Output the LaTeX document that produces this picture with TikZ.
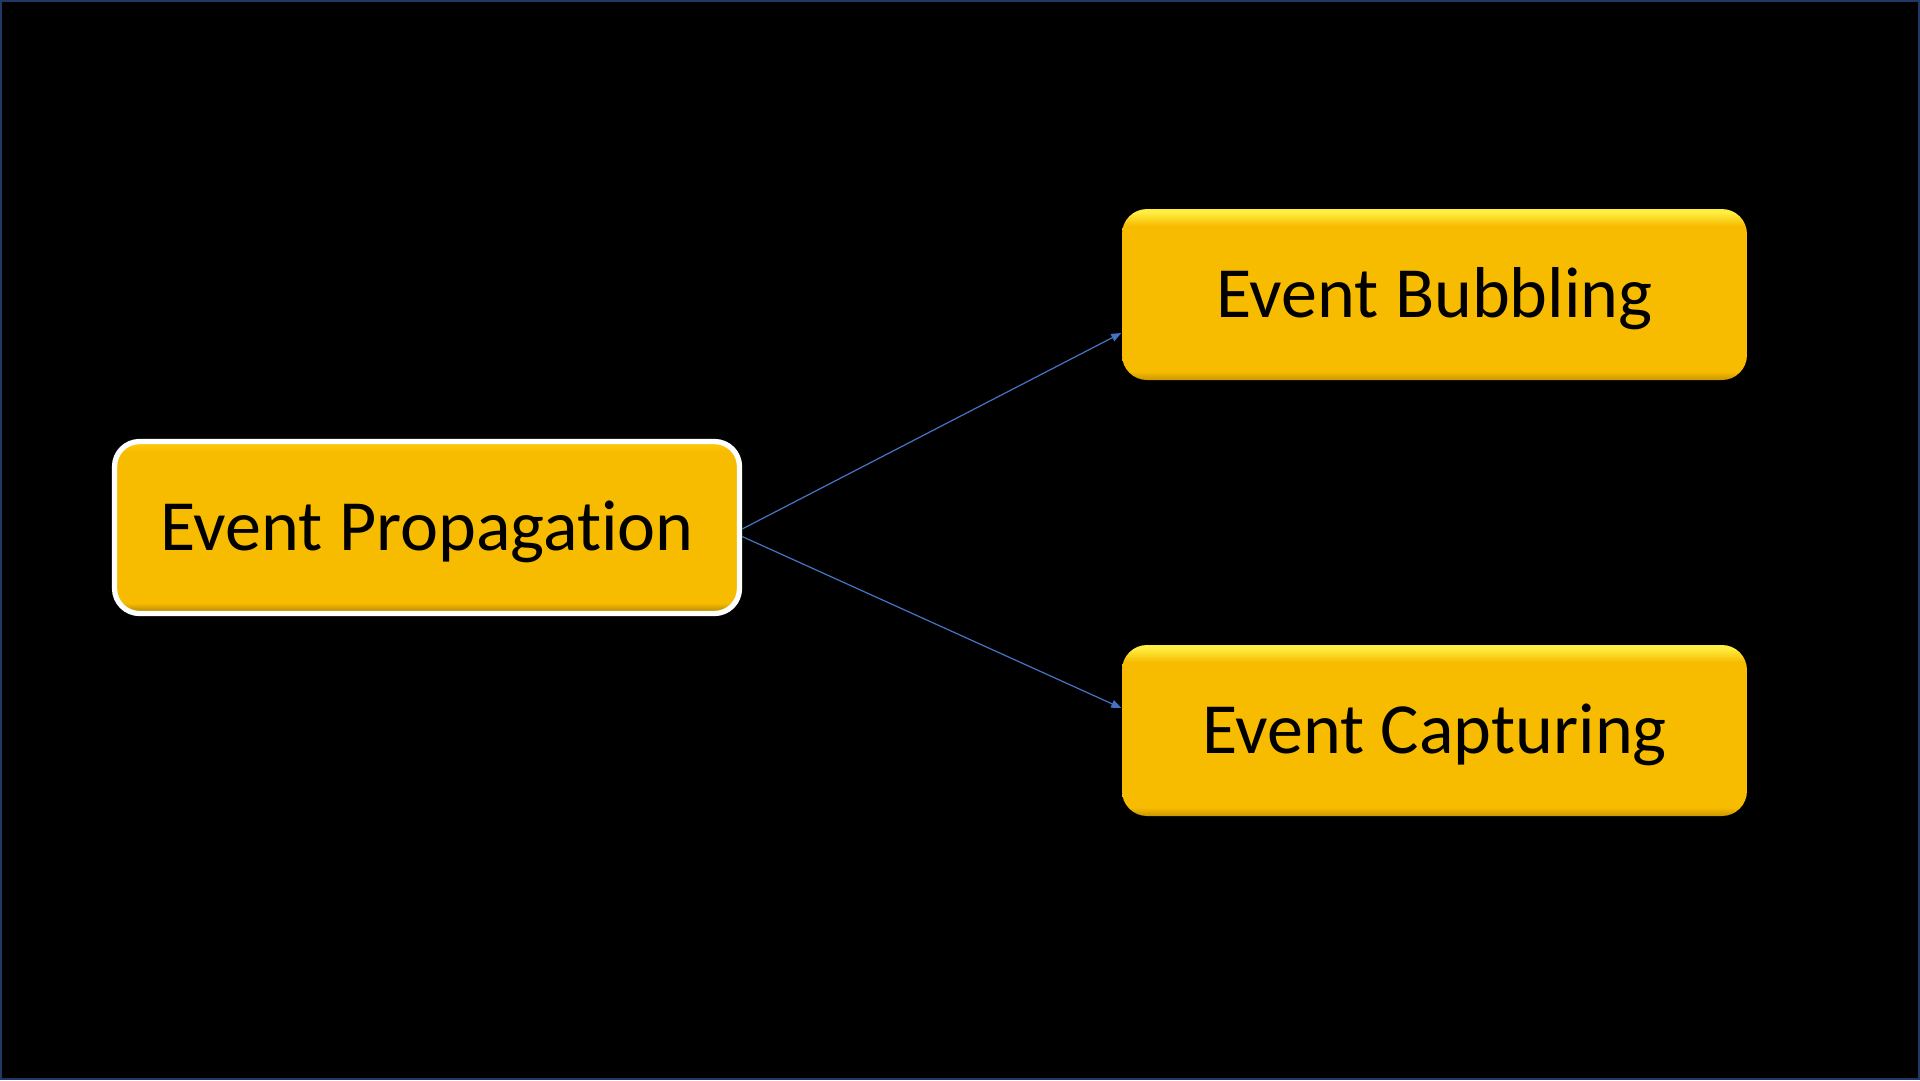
\documentclass[tikz,border=0pt]{standalone}
\usepackage{fontspec}
\setmainfont{Carlito}[RawFeature={-liga;-clig;-calt;-dlig}]
\usetikzlibrary{arrows.meta,positioning,calc}

\definecolor{slideblue}{HTML}{1F3864}
\definecolor{linkblue}{HTML}{4472C4}
\definecolor{boxgold}{HTML}{F7BB00}
\definecolor{boxtop}{HTML}{FFEE40}
\definecolor{boxbot}{HTML}{C99600}
\definecolor{roottop}{HTML}{FFCC10}
\definecolor{rootbot}{HTML}{A87E00}

\pgfdeclareverticalshading{goldbar}{100bp}{color(0bp)=(boxbot); color(25bp)=(boxbot); color(27.5bp)=(boxgold); color(70bp)=(boxgold); color(74bp)=(boxtop); color(100bp)=(boxtop)}
\pgfdeclareverticalshading{rootbar}{100bp}{color(0bp)=(rootbot); color(25bp)=(rootbot); color(28bp)=(boxgold); color(72bp)=(boxgold); color(75bp)=(roottop); color(100bp)=(roottop)}

\begin{document}
\begin{tikzpicture}[
    topic/.style={rounded corners=0.25cm, minimum width=6.25cm, minimum height=1.71cm, align=center, font=\fontsize{20.5}{24}\selectfont, text=black, shading=goldbar, text height=13.2pt, text depth=0pt, inner sep=0pt},
    root/.style={rounded corners=0.25cm, minimum width=6.25cm, minimum height=1.72cm, align=center, font=\fontsize{20.5}{24}\selectfont, text=black, shading=rootbar, draw=white, line width=1.5pt, text height=13.2pt, text depth=0pt, inner sep=0pt},
    link/.style={-{Triangle[length=0.1cm, width=0.08cm]}, draw=linkblue, line width=0.35pt}
]
% slide
\fill[black, draw=slideblue, line width=0.6pt] (0.01,0.01) rectangle (19.19,10.79);
\useasboundingbox (0,0) rectangle (19.2,10.8);

\node[root] (P) at (4.27,5.525) {Event Propagation};
\node[topic] (B) at (14.345,7.855) {Event Bubbling};
\node[topic] (C) at (14.345,3.495) {Event Capturing};

\draw[link] ([yshift=-0.015cm]P.east) -- ([yshift=-0.385cm]B.west);
\draw[link] ([yshift=-0.09cm]P.east) -- ([yshift=0.225cm]C.west);
\end{tikzpicture}
\end{document}
